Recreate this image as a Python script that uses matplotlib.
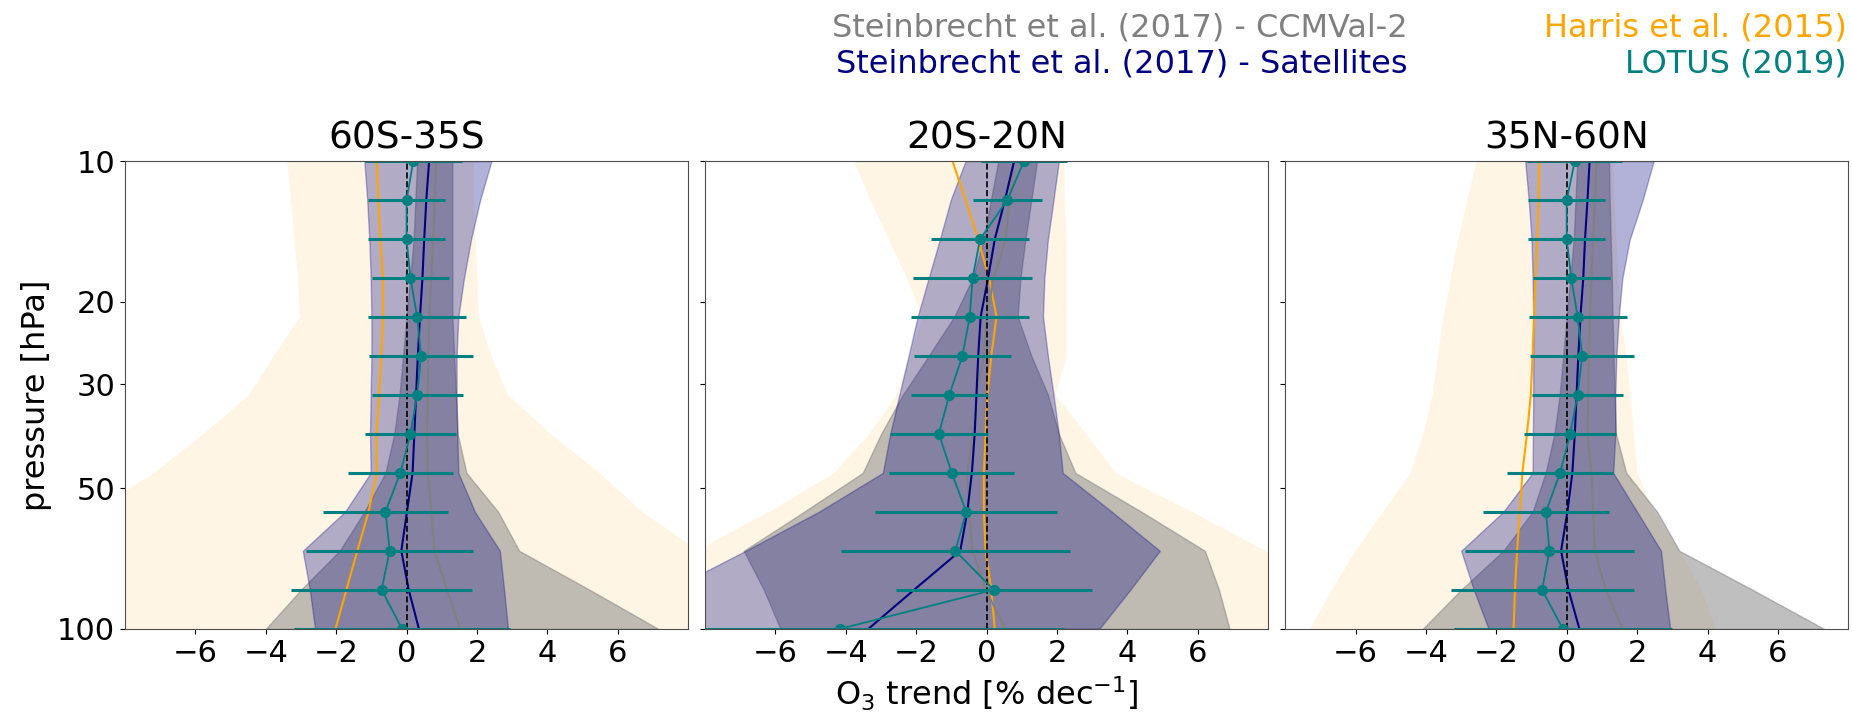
import matplotlib
matplotlib.use("Agg")
import matplotlib.pyplot as plt

# pressure levels [hPa], top to bottom
pressure = [10, 12.1, 14.7, 17.8, 21.5, 26.1, 31.6, 38.3, 46.4, 56.2, 68.1, 82.5, 100]

titles = ["60S-35S", "20S-20N", "35N-60N"]

# --- 60S-35S ---
lotus_sh = [0.19, 0.0, 0.0, 0.11, 0.30, 0.41, 0.30, 0.11, -0.18, -0.60, -0.48, -0.71, -0.13]
lotus_err_sh = [1.38, 1.09, 1.09, 1.09, 1.39, 1.48, 1.29, 1.30, 1.49, 1.78, 2.37, 2.58, 3.06]
sat_sh = [0.64, 0.56, 0.50, 0.45, 0.38, 0.32, 0.27, 0.22, 0.17, 0.01, -0.15, 0.06, 0.35]
sat_lo_sh = [-1.20, -1.12, -1.06, -1.02, -1.00, -1.00, -1.02, -1.04, -1.02, -1.75, -2.95, -2.75, -2.60]
sat_hi_sh = [2.41, 2.09, 1.83, 1.63, 1.47, 1.42, 1.42, 1.44, 1.47, 1.94, 2.65, 2.77, 2.88]
ccm_sh = [0.84, 0.80, 0.75, 0.70, 0.65, 0.62, 0.60, 0.58, 0.60, 0.70, 0.79, 1.15, 1.52]
ccm_lo_sh = [0.30, 0.25, 0.20, 0.10, 0.0, -0.10, -0.20, -0.35, -0.60, -1.20, -1.90, -3.00, -4.00]
ccm_hi_sh = [1.30, 1.30, 1.30, 1.30, 1.30, 1.35, 1.40, 1.45, 1.70, 2.60, 3.20, 5.20, 7.15]
harris_sh = [-0.85, -0.80, -0.75, -0.67, -0.67, -0.72, -0.78, -0.86, -0.85, -1.08, -1.40, -1.71, -2.02]
harris_lo_sh = [-3.41, -3.30, -3.20, -3.10, -3.05, -3.80, -4.50, -5.80, -7.20, -9.0, -11.0, -13.0, -15.0]
harris_hi_sh = [1.90, 1.90, 1.95, 2.00, 2.04, 2.40, 2.88, 4.10, 5.48, 6.70, 8.30, 9.50, 10.50]

# --- 20S-20N ---
lotus_tr = [1.06, 0.59, -0.19, -0.40, -0.48, -0.69, -1.06, -1.36, -0.99, -0.58, -0.89, 0.20, -4.17]
lotus_err_tr = [1.23, 0.99, 1.38, 1.68, 1.68, 1.38, 1.09, 1.39, 1.78, 2.59, 3.26, 2.78, 6.36]
sat_tr = [0.78, 0.52, 0.23, 0.04, -0.17, -0.24, -0.29, -0.34, -0.42, -0.55, -0.75, -2.06, -3.36]
sat_lo_tr = [-0.60, -1.02, -1.33, -1.65, -1.96, -2.22, -2.48, -2.74, -2.95, -4.77, -6.85, -9.0, -11.0]
sat_hi_tr = [2.05, 1.90, 1.74, 1.64, 1.60, 1.74, 1.90, 2.05, 2.16, 3.56, 4.92, 4.08, 3.20]
ccm_tr = [0.78, 0.65, 0.54, 0.20, 0.0, -0.08, -0.29, -0.39, -0.55, -0.50, -0.40, -0.03, 0.54]
ccm_lo_tr = [0.33, 0.12, -0.08, -0.40, -0.92, -1.65, -2.38, -3.00, -3.52, -5.19, -6.90, -6.33, -5.86]
ccm_hi_tr = [1.43, 1.27, 1.10, 0.96, 0.88, 1.27, 1.74, 2.05, 2.52, 4.40, 6.20, 6.60, 6.90]
harris_tr = [-0.97, -0.60, -0.24, 0.07, 0.28, 0.13, 0.02, -0.03, -0.08, -0.08, -0.03, 0.13, 0.23]
harris_lo_tr = [-3.78, -3.31, -2.79, -2.27, -1.85, -2.20, -2.58, -3.36, -4.35, -6.23, -8.30, -10.0, -12.0]
harris_hi_tr = [2.20, 2.20, 2.26, 2.26, 2.26, 2.26, 1.95, 2.83, 3.67, 5.85, 7.94, 9.60, 11.0]

# --- 35N-60N ---
lotus_nh = [0.23, 0.0, 0.0, 0.13, 0.31, 0.44, 0.31, 0.10, -0.19, -0.59, -0.49, -0.70, -0.11]
lotus_err_nh = [1.35, 1.09, 1.09, 1.10, 1.39, 1.48, 1.30, 1.30, 1.51, 1.79, 2.41, 2.60, 3.10]
sat_nh = [0.65, 0.59, 0.52, 0.47, 0.39, 0.33, 0.28, 0.23, 0.16, 0.02, -0.16, 0.05, 0.36]
sat_lo_nh = [-1.18, -1.08, -1.00, -0.97, -0.95, -0.95, -0.95, -0.96, -0.97, -1.80, -3.00, -2.64, -2.22]
sat_hi_nh = [2.47, 2.16, 1.79, 1.58, 1.48, 1.41, 1.38, 1.38, 1.32, 2.00, 2.68, 2.80, 2.94]
ccm_nh = [0.85, 0.80, 0.75, 0.70, 0.66, 0.63, 0.61, 0.59, 0.70, 0.75, 0.80, 1.11, 1.58]
ccm_lo_nh = [0.30, 0.25, 0.20, 0.10, 0.0, -0.10, -0.20, -0.35, -0.60, -0.97, -1.80, -3.00, -4.09]
ccm_hi_nh = [1.20, 1.22, 1.25, 1.28, 1.30, 1.33, 1.36, 1.40, 1.69, 2.57, 3.20, 5.28, 7.31]
harris_nh = [-0.78, -0.80, -0.84, -0.89, -0.93, -0.97, -1.02, -1.13, -1.26, -1.33, -1.41, -1.47, -1.51]
harris_lo_nh = [-2.58, -2.84, -3.10, -3.31, -3.52, -3.68, -3.83, -4.09, -4.46, -5.24, -6.02, -6.70, -7.32]
harris_hi_nh = [1.30, 1.35, 1.40, 1.45, 1.53, 1.69, 1.80, 1.90, 2.00, 2.47, 3.20, 3.82, 4.24]

panels = [
    (lotus_sh, lotus_err_sh, sat_sh, sat_lo_sh, sat_hi_sh, ccm_sh, ccm_lo_sh, ccm_hi_sh,
     harris_sh, harris_lo_sh, harris_hi_sh),
    (lotus_tr, lotus_err_tr, sat_tr, sat_lo_tr, sat_hi_tr, ccm_tr, ccm_lo_tr, ccm_hi_tr,
     harris_tr, harris_lo_tr, harris_hi_tr),
    (lotus_nh, lotus_err_nh, sat_nh, sat_lo_nh, sat_hi_nh, ccm_nh, ccm_lo_nh, ccm_hi_nh,
     harris_nh, harris_lo_nh, harris_hi_nh),
]

fig, axes = plt.subplots(1, 3, figsize=(18.52, 7.13), dpi=100, sharey=True)
fig.subplots_adjust(left=0.0675, right=0.998, bottom=0.118, top=0.774, wspace=0.030)

for ax, title, data in zip(axes, titles, panels):
    (lotus, lotus_err, sat, sat_lo, sat_hi, ccm, ccm_lo, ccm_hi,
     harris, harris_lo, harris_hi) = data

    # Harris et al. (2015)
    ax.fill_betweenx(pressure, harris_lo, harris_hi, color="orange", alpha=0.1, lw=0)
    ax.plot(harris, pressure, color="orange", lw=1.5)

    # Steinbrecht CCMVal-2
    ax.fill_betweenx(pressure, ccm_lo, ccm_hi, color="gray", alpha=0.5)
    ax.plot(ccm, pressure, color="gray", lw=1.5)

    # Steinbrecht satellites
    ax.fill_betweenx(pressure, sat_lo, sat_hi, color="navy", alpha=0.3)
    ax.plot(sat, pressure, color="navy", lw=1.5)

    ax.axvline(0, color="k", ls="--", lw=1.2)

    # LOTUS (2019)
    ax.errorbar(lotus, pressure, xerr=lotus_err, color="teal", marker="o", ms=7,
                lw=1.3, elinewidth=2.2, capsize=0)

    ax.set_yscale("log")
    ax.set_ylim(100, 10)
    ax.set_xlim(-8, 8)
    ax.set_xticks([-6, -4, -2, 0, 2, 4, 6])
    ax.set_yticks([10, 20, 30, 50, 100])
    ax.set_yticklabels(["10", "20", "30", "50", "100"])
    ax.minorticks_off()
    ax.tick_params(labelsize=22)
    for sp in ax.spines.values():
        sp.set_color("0.3")
    ax.set_title(title, fontsize=27, pad=9)

axes[0].set_ylabel("pressure [hPa]", fontsize=23)
axes[1].set_xlabel(r"O$_3$ trend [% dec$^{-1}$]", fontsize=23, labelpad=5)

# legend as coloured text
fig.text(0.760, 0.9495, "Steinbrecht et al. (2017) - CCMVal-2", color="gray",
         fontsize=23, ha="right", va="baseline")
fig.text(0.760, 0.899, "Steinbrecht et al. (2017) - Satellites", color="navy",
         fontsize=23, ha="right", va="baseline")
fig.text(0.997, 0.9495, "Harris et al. (2015)", color="orange",
         fontsize=23, ha="right", va="baseline")
fig.text(0.997, 0.899, "LOTUS (2019)", color="teal",
         fontsize=23, ha="right", va="baseline")

fig.savefig("out.png", dpi=100)
